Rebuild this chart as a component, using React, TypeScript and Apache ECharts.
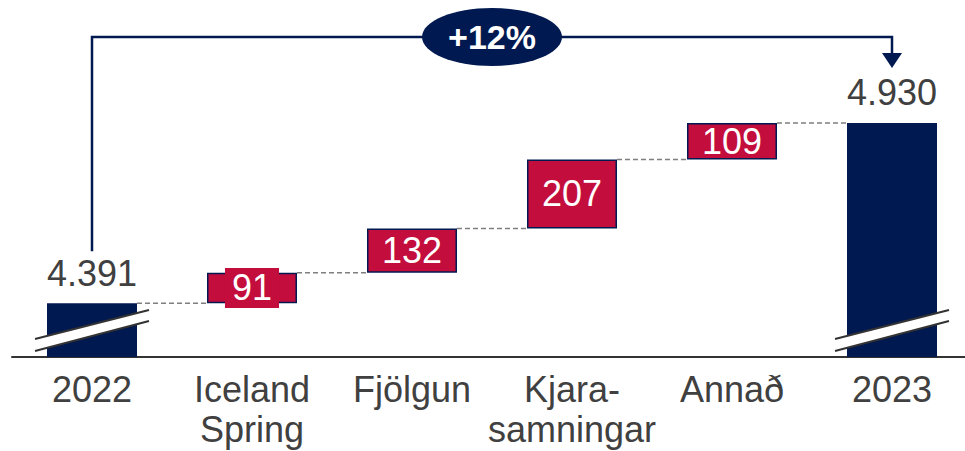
import React, { useEffect, useRef } from "react";
import * as echarts from "echarts";

const categories = ["2022", "Iceland\nSpring", "Fjölgun", "Kjara-\nsamningar", "Annað", "2023"];
const startTotal = 4391;
const endTotal = 4930;
const deltas = [91, 132, 207, 109];
const changeLabel = "+12%";
const axisMin = 4230;
const axisMax = 5190;

const NAVY = "#001950";
const RED = "#C30D3C";
const TEXT = "#404040";
const FONT = "'Liberation Sans', Arial, sans-serif";
const HALF_BAR = 45;

const fmt = (v: number) => String(v).replace(/\B(?=(\d{3})+(?!\d))/g, ".");

export default function App() {
  const ref = useRef<HTMLDivElement>(null);

  useEffect(() => {
    if (!ref.current) return;
    const chart = echarts.init(ref.current, null, { renderer: "svg" });

    const levels: number[] = [startTotal];
    deltas.forEach((d) => levels.push(levels[levels.length - 1] + d));

    const baseData = categories.map((_, i) =>
      i >= 1 && i <= deltas.length ? levels[i - 1] : "-"
    );
    const deltaData = categories.map((_, i) => {
      if (i >= 1 && i <= deltas.length) {
        const item: any = { value: deltas[i - 1] };
        if (deltas[i - 1] < 100) {
          item.label = { backgroundColor: RED, padding: [0, 7] };
        }
        return item;
      }
      return "-";
    });
    const totalData = categories.map((_, i) =>
      i === 0 ? startTotal : i === categories.length - 1 ? endTotal : "-"
    );
    const connectorData = levels.map((v, i) => [i, v]);
    const breakData = [
      [0, axisMin],
      [categories.length - 1, axisMin],
    ];

    chart.setOption({
      animation: false,
      grid: { left: 12, right: 0, top: 36, bottom: 94, containLabel: false },
      xAxis: {
        type: "category",
        data: categories,
        axisLine: { show: true, lineStyle: { color: "#333", width: 2 } },
        axisTick: { show: false },
        axisLabel: {
          interval: 0,
          color: TEXT,
          fontSize: 36,
          lineHeight: 40,
          fontFamily: FONT,
          margin: 12,
        },
      },
      yAxis: {
        type: "value",
        min: axisMin,
        max: axisMax,
        show: false,
        splitLine: { show: false },
      },
      series: [
        {
          type: "bar",
          stack: "w",
          barWidth: 90,
          data: baseData,
          itemStyle: { color: "transparent" },
          silent: true,
        },
        {
          type: "bar",
          stack: "w",
          barWidth: 90,
          data: deltaData,
          itemStyle: { color: RED, borderColor: NAVY, borderWidth: 1.5 },
          label: {
            show: true,
            position: "inside",
            color: "#fff",
            fontSize: 36,
            lineHeight: 40,
            fontFamily: FONT,
          },
          silent: true,
        },
        {
          type: "bar",
          stack: "w",
          barWidth: 90,
          data: totalData,
          itemStyle: { color: NAVY },
          label: {
            show: true,
            position: "top",
            distance: 10,
            color: TEXT,
            fontSize: 36,
            lineHeight: 40,
            fontFamily: FONT,
            formatter: (p: any) => fmt(p.value),
          },
          silent: true,
        },
        {
          type: "custom",
          data: connectorData,
          z: 5,
          silent: true,
          renderItem: (params: any, api: any) => {
            const i = api.value(0);
            const v = api.value(1);
            const p = api.coord([i, v]);
            const q = api.coord([i + 1, v]);
            return {
              type: "line",
              shape: { x1: p[0] + HALF_BAR, y1: p[1], x2: q[0] - HALF_BAR, y2: q[1] },
              style: { stroke: "#7f7f7f", lineWidth: 1.5, lineDash: [5, 3] },
            };
          },
        },
        {
          type: "custom",
          data: breakData,
          z: 6,
          silent: true,
          renderItem: (params: any, api: any) => {
            const p = api.coord([api.value(0), api.value(1)]);
            const cx = p[0];
            const by = p[1];
            const ul = [cx - 57, by - 18];
            const ur = [cx + 57, by - 47];
            const lr = [cx + 57, by - 36];
            const ll = [cx - 57, by - 6];
            return {
              type: "group",
              children: [
                { type: "polygon", shape: { points: [ul, ur, lr, ll] }, style: { fill: "#fff" } },
                {
                  type: "line",
                  shape: { x1: ul[0], y1: ul[1], x2: ur[0], y2: ur[1] },
                  style: { stroke: "#333", lineWidth: 2 },
                },
                {
                  type: "line",
                  shape: { x1: ll[0], y1: ll[1], x2: lr[0], y2: lr[1] },
                  style: { stroke: "#333", lineWidth: 2 },
                },
              ],
            };
          },
        },
        {
          type: "custom",
          data: [[0, startTotal, categories.length - 1, endTotal]],
          z: 7,
          silent: true,
          clip: false,
          renderItem: (params: any, api: any) => {
            const a = api.coord([api.value(0), api.value(1)]);
            const b = api.coord([api.value(2), api.value(3)]);
            const topY = params.coordSys.y + 1;
            const leftBottom = a[1] - 52;
            const arrowTop = b[1] - 70;
            const arrowTip = b[1] - 55;
            const midX = (a[0] + b[0]) / 2;
            return {
              type: "group",
              children: [
                {
                  type: "polyline",
                  shape: {
                    points: [
                      [a[0], leftBottom],
                      [a[0], topY],
                      [b[0], topY],
                      [b[0], arrowTop],
                    ],
                  },
                  style: { stroke: NAVY, lineWidth: 2.5, fill: "none" },
                },
                {
                  type: "polygon",
                  shape: {
                    points: [
                      [b[0] - 10, arrowTop],
                      [b[0] + 10, arrowTop],
                      [b[0], arrowTip],
                    ],
                  },
                  style: { fill: NAVY },
                },
                {
                  type: "ellipse",
                  shape: { cx: midX, cy: topY, rx: 70, ry: 29 },
                  style: { fill: NAVY },
                },
                {
                  type: "text",
                  style: {
                    text: changeLabel,
                    x: midX,
                    y: topY,
                    fill: "#fff",
                    fontSize: 34,
                    fontWeight: "bold",
                    fontFamily: FONT,
                    align: "center",
                    verticalAlign: "middle",
                  },
                },
              ],
            };
          },
        },
      ],
    });

    return () => chart.dispose();
  }, []);

  return (
    <div
      style={{
        position: "absolute",
        left: 0,
        top: 0,
        width: 965,
        height: 451,
        overflow: "hidden",
        background: "#fff",
      }}
    >
      <div ref={ref} style={{ width: 972, height: 451 }} />
    </div>
  );
}
